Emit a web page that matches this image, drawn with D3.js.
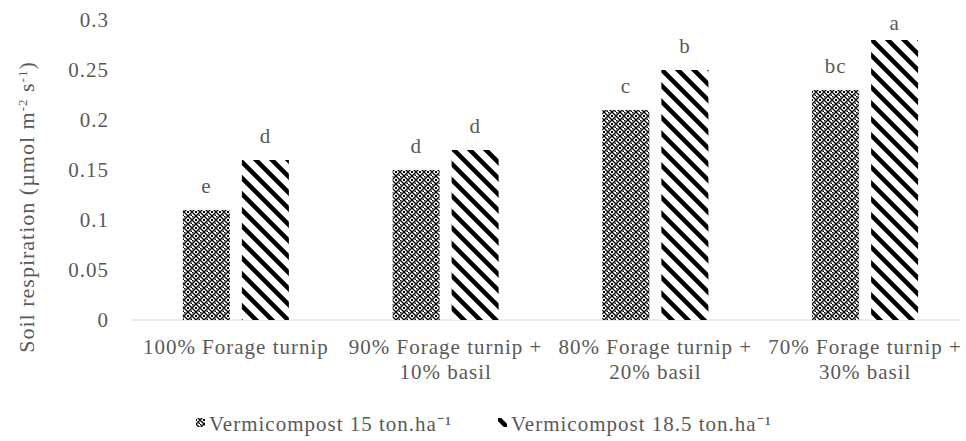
<!DOCTYPE html>
<html><head><meta charset="utf-8">
<script src="https://cdn.jsdelivr.net/npm/d3@7"></script>
<style>body{margin:0;background:#fff}svg{display:block}</style>
</head><body><svg id="c" width="966" height="441"></svg>
<script>
const categories = [["100% Forage turnip"], ["90% Forage turnip +", "10% basil"], ["80% Forage turnip +", "20% basil"], ["70% Forage turnip +", "30% basil"]];
const seriesNames = ["Vermicompost 15 ton.ha\u207B\u00B9", "Vermicompost 18.5 ton.ha\u207B\u00B9"];
const vc15 = [0.11, 0.15, 0.21, 0.23];
const vc185 = [0.16, 0.17, 0.25, 0.28];
const letters15 = ["e", "d", "c", "bc"];
const letters185 = ["d", "d", "b", "a"];
const yTicks = [0, 0.05, 0.1, 0.15, 0.2, 0.25, 0.3];

const svg = d3.select("#c");
const font = "'Liberation Serif','Times New Roman',serif";
const grey = "#595959";
const FS = 21, LS = 1;
const defs = svg.append("defs");
const p1 = defs.append("pattern").attr("id","p1").attr("patternUnits","userSpaceOnUse").attr("width",8).attr("height",8);
p1.append("rect").attr("width",8).attr("height",8).attr("fill","#fff");
p1.append("path").attr("d","M4,0 L8,4 L4,8 L0,4Z").attr("fill","none").attr("stroke","#000").attr("stroke-width",1.3);
p1.append("rect").attr("x",3).attr("y",3).attr("width",2).attr("height",2).attr("fill","#000");
p1.append("rect").attr("x",0).attr("y",0).attr("width",1.5).attr("height",1.5).attr("fill","#000");
p1.append("rect").attr("x",6.5).attr("y",6.5).attr("width",1.5).attr("height",1.5).attr("fill","#000");
const p2 = defs.append("pattern").attr("id","p2").attr("patternUnits","userSpaceOnUse").attr("width",16).attr("height",16);
p2.append("rect").attr("width",16).attr("height",16).attr("fill","#fff");
p2.append("path").attr("d","M-4,-4 L20,20 M-4,12 L4,20 M12,-4 L20,4").attr("stroke","#000").attr("stroke-width",4.5);

const x0 = d3.scaleBand().domain(d3.range(categories.length)).range([131, 970]);
const y = d3.scaleLinear().domain([0, 0.3]).range([320, 20]);
const barW = 47, gap = 12;

const yAxis = d3.axisLeft(y).tickValues(yTicks).tickSize(0).tickPadding(0).tickFormat(d => String(+d.toFixed(2)));
const ga = svg.append("g").attr("transform","translate(109,0)").call(yAxis);
ga.select(".domain").remove();
ga.selectAll("text").attr("font-family",font).attr("font-size",FS).attr("letter-spacing",LS).attr("fill",grey);

svg.append("line").attr("x1",131).attr("x2",960).attr("y1",y(0)).attr("y2",y(0)).attr("stroke","#d9d9d9").attr("stroke-width",1);

const series = [{vals: vc15, lets: letters15, fill: "url(#p1)", off: -gap/2 - barW},
                {vals: vc185, lets: letters185, fill: "url(#p2)", off: gap/2}];
series.forEach(s => {
  const cx = i => x0(i) + x0.bandwidth()/2 + s.off;
  svg.append("g").selectAll("rect").data(s.vals).join("rect")
    .attr("x",(d,i)=>cx(i)).attr("width",barW)
    .attr("y",d=>y(d)).attr("height",d=>y(0)-y(d)).attr("fill",s.fill);
  svg.append("g").selectAll("text").data(s.vals).join("text")
    .attr("x",(d,i)=>cx(i)+barW/2).attr("y",d=>Math.max(y(d)-17, 30))
    .attr("text-anchor","middle").attr("font-family",font).attr("font-size",FS).attr("letter-spacing",LS).attr("fill",grey)
    .text((d,i)=>s.lets[i]);
});

categories.forEach((lines,i) => {
  const cx = x0(i)+x0.bandwidth()/2;
  const t = svg.append("text").attr("text-anchor","middle").attr("font-family",font).attr("font-size",FS).attr("letter-spacing",LS).attr("fill",grey)
    .attr("x", cx).attr("y", 354);
  lines.forEach((l,j) => t.append("tspan").attr("x", cx).attr("dy", j===0?0:25).text(l));
});

const yt = svg.append("text").attr("transform","translate(34,207) rotate(-90)").attr("text-anchor","middle")
  .attr("font-family",font).attr("font-size",22).attr("letter-spacing",LS).attr("fill",grey);
yt.append("tspan").text("Soil respiration (\u00B5mol m");
yt.append("tspan").attr("baseline-shift","super").attr("font-size",13).text("-2");
yt.append("tspan").text(" s");
yt.append("tspan").attr("baseline-shift","super").attr("font-size",13).text("-1");
yt.append("tspan").text(")");

const leg = [{x:196, fill:"url(#p1)"}, {x:498, fill:"url(#p2)"}];
leg.forEach((l,i) => {
  svg.append("rect").attr("x",l.x).attr("y",418).attr("width",9).attr("height",9).attr("fill",l.fill);
  svg.append("text").attr("x",l.x+13).attr("y",431).attr("font-family",font).attr("font-size",FS).attr("letter-spacing",LS).attr("fill",grey).text(seriesNames[i]);
});
</script></body></html>
